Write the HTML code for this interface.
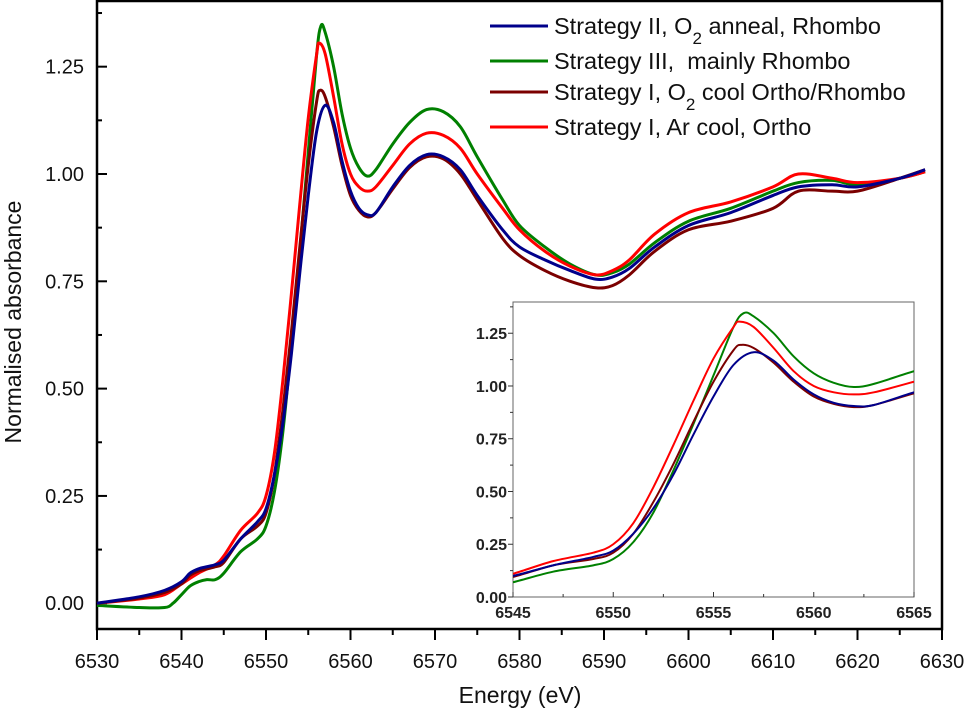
<!DOCTYPE html>
<html><head><meta charset="utf-8"><style>
body{margin:0;background:#fff;}
svg text{font-family:"Liberation Sans",Arial,sans-serif;}
</style></head><body>
<svg id="chart" width="968" height="717" viewBox="0 0 968 717" xmlns="http://www.w3.org/2000/svg">
<g id="main"></g>
<g id="inset"></g>
<g id="legend"></g>
</svg>
<script>
const seriesNames=["Strategy II, O2 anneal, Rhombo","Strategy III,  mainly Rhombo","Strategy I, O2 cool Ortho/Rhombo","Strategy I, Ar cool, Ortho"];
const seriesColors=["#00008b","#008000","#7b0000","#ff0000"];
const xTicksMain=[6530,6540,6550,6560,6570,6580,6590,6600,6610,6620,6630];
const yTicksMain=[0,0.25,0.5,0.75,1.0,1.25];
const xTicksInset=[6545,6550,6555,6560,6565];
const yTicksInset=[0,0.25,0.5,0.75,1.0,1.25];
const energyBlue=[6530,6535,6538,6540,6541,6542,6543,6544,6545,6547,6549,6550,6551,6552,6553,6554,6555,6556,6557,6558,6559,6560,6561,6562,6563,6565,6567,6569,6571,6573,6575,6578,6580,6583,6586,6589,6591,6593,6596,6600,6605,6610,6613,6617,6620,6625,6628];
const absBlue=[0,0.015,0.03,0.05,0.07,0.08,0.085,0.09,0.10,0.15,0.19,0.22,0.30,0.42,0.58,0.77,0.95,1.10,1.16,1.12,1.03,0.96,0.92,0.905,0.91,0.97,1.02,1.045,1.04,1.01,0.95,0.87,0.83,0.80,0.775,0.755,0.76,0.78,0.83,0.88,0.91,0.95,0.97,0.975,0.97,0.99,1.01];
const energyGreen=[6530,6535,6538,6539,6540,6541,6542,6543,6544,6545,6547,6549,6550,6551,6552,6553,6554,6555,6556,6556.5,6557,6558,6559,6560,6561,6562,6563,6565,6567,6569,6571,6573,6575,6578,6580,6583,6586,6589,6591,6593,6596,6600,6605,6610,6613,6617,6620,6625,6628];
const absGreen=[-0.005,-0.01,-0.01,0,0.02,0.04,0.05,0.055,0.055,0.07,0.12,0.15,0.18,0.26,0.40,0.60,0.82,1.05,1.28,1.345,1.33,1.25,1.14,1.06,1.015,0.995,1.01,1.07,1.12,1.15,1.145,1.11,1.04,0.94,0.88,0.83,0.79,0.765,0.77,0.79,0.84,0.89,0.92,0.96,0.98,0.985,0.975,0.99,1.005];
const energyBrown=[6530,6535,6538,6540,6541,6542,6543,6544,6545,6547,6549,6550,6551,6552,6553,6554,6555,6556,6556.4,6557,6558,6559,6560,6561,6562,6563,6565,6567,6569,6571,6573,6575,6578,6580,6583,6586,6589,6591,6593,6596,6600,6605,6610,6613,6617,6620,6625,6628];
const absBrown=[0,0.012,0.025,0.045,0.065,0.075,0.08,0.085,0.095,0.15,0.18,0.21,0.30,0.45,0.63,0.83,1.02,1.17,1.195,1.18,1.11,1.02,0.95,0.915,0.90,0.91,0.965,1.015,1.04,1.035,1.0,0.94,0.85,0.81,0.775,0.75,0.735,0.74,0.765,0.82,0.87,0.89,0.92,0.96,0.96,0.96,0.99,1.01];
const energyRed=[6530,6535,6538,6540,6542,6544,6545,6547,6549,6550,6551,6552,6553,6554,6555,6556,6556.3,6557,6558,6559,6560,6561,6562,6563,6565,6567,6569,6571,6573,6575,6578,6580,6583,6586,6589,6591,6593,6596,6600,6605,6610,6613,6617,6620,6625,6628];
const absRed=[0,0.01,0.02,0.045,0.07,0.09,0.11,0.17,0.21,0.25,0.35,0.52,0.72,0.93,1.13,1.28,1.305,1.28,1.18,1.07,1.0,0.97,0.96,0.97,1.02,1.07,1.095,1.09,1.06,1.0,0.92,0.87,0.82,0.785,0.765,0.775,0.80,0.86,0.91,0.935,0.97,1.0,0.99,0.98,0.99,1.005];

const allE=[energyBlue,energyGreen,energyBrown,energyRed];
const allA=[absBlue,absGreen,absBrown,absRed];
const drawOrder=[1,3,2,0];
const NS="http://www.w3.org/2000/svg";
function mk(tag,attrs,parent){const e=document.createElementNS(NS,tag);for(const k in attrs)e.setAttribute(k,attrs[k]);parent.appendChild(e);return e;}
function pathFor(E,A,sx,sy){
  const p=E.map((e,i)=>[sx(e),sy(A[i])]);
  let d="M"+p[0][0].toFixed(2)+","+p[0][1].toFixed(2);
  for(let i=0;i<p.length-1;i++){
    const p0=p[Math.max(0,i-1)],p1=p[i],p2=p[i+1],p3=p[Math.min(p.length-1,i+2)];
    const c1=[p1[0]+(p2[0]-p0[0])/6,p1[1]+(p2[1]-p0[1])/6];
    const c2=[p2[0]-(p3[0]-p1[0])/6,p2[1]-(p3[1]-p1[1])/6];
    d+="C"+c1.map(v=>v.toFixed(2)).join(",")+" "+c2.map(v=>v.toFixed(2)).join(",")+" "+p2[0].toFixed(2)+","+p2[1].toFixed(2);
  }
  return d;
}
// main
const M={x0:97,x1:942,y0:629,y1:1,xmin:6530,xmax:6630,ymin:-0.06,ymax:1.403};
const mx=v=>M.x0+(v-M.xmin)/(M.xmax-M.xmin)*(M.x1-M.x0);
const my=v=>M.y0-(v-M.ymin)/(M.ymax-M.ymin)*(M.y0-M.y1);
const main=document.getElementById('main');
const fr=mk('rect',{x:M.x0,y:M.y1,width:M.x1-M.x0,height:M.y0-M.y1,fill:'none',stroke:'#000','stroke-width':2.5},main);

xTicksMain.forEach((t,i)=>{
  const x=mx(t);
  const l=mk('line',{x1:x,y1:M.y0,x2:x,y2:M.y0+11,stroke:'#000','stroke-width':2},main);
  
  if(i<xTicksMain.length-1){const m=mk('line',{x1:mx(t+5),y1:M.y0,x2:mx(t+5),y2:M.y0+6,stroke:'#000','stroke-width':2},main);
  }
  const tx=mk('text',{x:x,y:668,'text-anchor':'middle','font-size':20,fill:'#111'},main);tx.textContent=t;
  
});
yTicksMain.forEach(t=>{
  const y=my(t);
  const l=mk('line',{x1:M.x0,y1:y,x2:M.x0+10,y2:y,stroke:'#000','stroke-width':2},main);
  
  const m=mk('line',{x1:M.x0,y1:my(t+0.125),x2:M.x0+5,y2:my(t+0.125),stroke:'#000','stroke-width':2},main);
  
  const tx=mk('text',{x:84,y:y+7,'text-anchor':'end','font-size':20,fill:'#111'},main);tx.textContent=t.toFixed(2);
  
});
const xt=mk('text',{x:520,y:703,'text-anchor':'middle','font-size':23,fill:'#111'},main);xt.textContent="Energy (eV)";

const yt=mk('text',{x:0,y:0,'text-anchor':'middle','font-size':23,fill:'#111',transform:'translate(21,322) rotate(-90)'},main);yt.textContent="Normalised absorbance";

drawOrder.forEach(i=>{
  const p=mk('path',{d:pathFor(allE[i],allA[i],mx,my),fill:'none',stroke:seriesColors[i],'stroke-width':3,'stroke-linejoin':'round'},main);
  
});
// inset
const I={x0:513,x1:914,y0:597,y1:302,xmin:6545,xmax:6565,ymin:0,ymax:1.398};
const ix=v=>I.x0+(v-I.xmin)/(I.xmax-I.xmin)*(I.x1-I.x0);
const iy=v=>I.y0-(v-I.ymin)/(I.ymax-I.ymin)*(I.y0-I.y1);
const inset=document.getElementById('inset');
const ib=mk('rect',{x:I.x0,y:I.y1,width:I.x1-I.x0,height:I.y0-I.y1,fill:'#fff',stroke:'#666','stroke-width':1},inset);

const cp=mk('clipPath',{id:'ic'},inset);
mk('rect',{x:I.x0,y:I.y1,width:I.x1-I.x0,height:I.y0-I.y1},cp);
xTicksInset.forEach((t,i)=>{
  const x=ix(t);
  const l=mk('line',{x1:x,y1:I.y0,x2:x,y2:I.y0-5,stroke:'#333','stroke-width':1},inset);
  
  if(i<xTicksInset.length-1){const m=mk('line',{x1:ix(t+2.5),y1:I.y0,x2:ix(t+2.5),y2:I.y0-3,stroke:'#333','stroke-width':1},inset);
  }
  const tx=mk('text',{x:x,y:I.y0+21,'text-anchor':'middle','font-size':16,'font-weight':'bold',fill:'#222'},inset);tx.textContent=t;
  
});
yTicksInset.forEach(t=>{
  const y=iy(t);
  const l=mk('line',{x1:I.x0,y1:y,x2:I.x0-5,y2:y,stroke:'#333','stroke-width':1},inset);
  
  const m=mk('line',{x1:I.x0,y1:iy(t+0.125),x2:I.x0-3,y2:iy(t+0.125),stroke:'#333','stroke-width':1},inset);
  
  const tx=mk('text',{x:I.x0-6,y:y+6,'text-anchor':'end','font-size':16,'font-weight':'bold',fill:'#222'},inset);tx.textContent=t.toFixed(2);
  
});
drawOrder.forEach(i=>{
  const p=mk('path',{d:pathFor(allE[i],allA[i],ix,iy),fill:'none',stroke:seriesColors[i],'stroke-width':2,'clip-path':'url(#ic)'},inset);
  
});
// legend
const leg=document.getElementById('legend');
const legY=[26,61,92,127];
const legHtml=["Strategy II, O<tspan baseline-shift='sub' font-size='17'>2</tspan> anneal, Rhombo","Strategy III,&#160; mainly Rhombo","Strategy I, O<tspan baseline-shift='sub' font-size='17'>2</tspan> cool Ortho/Rhombo","Strategy I, Ar cool, Ortho"];
seriesNames.forEach((n,i)=>{
  const l=mk('line',{x1:490,y1:legY[i],x2:548,y2:legY[i],stroke:seriesColors[i],'stroke-width':3},leg);
  
  const t=mk('text',{x:554,y:legY[i]+8,'font-size':23.5,fill:'#111'},leg);t.innerHTML=legHtml[i];
  
});
</script>
</body></html>
